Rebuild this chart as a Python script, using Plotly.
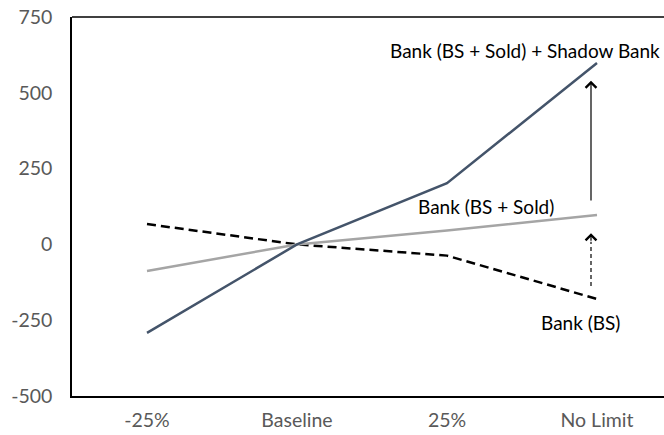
import plotly.graph_objects as go

categories = ["-25%", "Baseline", "25%", "No Limit"]
shadow_total = [-292, 0, 202, 598]       # Bank (BS + Sold) + Shadow Bank
bs_sold = [-88, 0, 46, 97]               # Bank (BS + Sold)
bs_only = [67, 0, -37, -180]             # Bank (BS)
y_ticks = [-500, -250, 0, 250, 500, 750]
y_tick_labels = ["-500", "-250", "0", "250", "500", "750"]

# arrows at No Limit (start value, end value)
solid_arrow = (140, 540)
dashed_arrow = (-137, 37)

x = list(range(len(categories)))
FONT = "Lato, 'Open Sans', sans-serif"
FS = 19.5
AFS = 19
AX = x[-1] - 0.04

fig = go.Figure()
fig.add_trace(go.Scatter(x=x, y=bs_only, mode="lines",
                         line=dict(color="black", width=2.5, dash="9px,5px")))
fig.add_trace(go.Scatter(x=x, y=bs_sold, mode="lines",
                         line=dict(color="#A5A5A5", width=2.5)))
fig.add_trace(go.Scatter(x=x, y=shadow_total, mode="lines",
                         line=dict(color="#44546A", width=2.5)))
# dashed arrow shaft
fig.add_trace(go.Scatter(x=[AX, AX], y=[dashed_arrow[0], dashed_arrow[1] - 28], mode="lines",
                         line=dict(color="black", width=1.2, dash="4px,3px")))

annotations = [
    dict(x=AX, y=solid_arrow[1], ax=AX, ay=solid_arrow[0], xref="x", yref="y",
         axref="x", ayref="y", showarrow=True, arrowhead=4, arrowsize=1.75,
         arrowwidth=1.2, arrowcolor="black", text=""),
    dict(x=AX, y=dashed_arrow[1], ax=AX, ay=dashed_arrow[1] - 30, xref="x", yref="y",
         axref="x", ayref="y", showarrow=True, arrowhead=4, arrowsize=1.75,
         arrowwidth=1.2, arrowcolor="black", text=""),
    dict(x=2.52, y=638, xref="x", yref="y", text="Bank (BS + Sold) + Shadow Bank",
         showarrow=False, xanchor="center", yanchor="middle",
         font=dict(family=FONT, size=AFS, color="black")),
    dict(x=2.26, y=124, xref="x", yref="y", text="Bank (BS + Sold)",
         showarrow=False, xanchor="center", yanchor="middle",
         font=dict(family=FONT, size=AFS, color="black")),
    dict(x=2.893, y=-259, xref="x", yref="y", text="Bank (BS)",
         showarrow=False, xanchor="center", yanchor="middle",
         font=dict(family=FONT, size=AFS, color="black")),
]

fig.update_layout(
    width=664, height=435,
    margin=dict(l=72, r=0, t=17, b=39, autoexpand=False),
    paper_bgcolor="white", plot_bgcolor="white",
    showlegend=False,
    hovermode=False,
    annotations=annotations,
    font=dict(family=FONT, size=FS, color="#595959"),
    shapes=[dict(type="line", xref="paper", yref="paper", x0=0, x1=1, y0=1, y1=1,
                 line=dict(color="black", width=1.5))],
)
fig.update_xaxes(range=[-0.5, -0.5 + 592 / 150], tickvals=x, ticktext=categories,
                 showgrid=False, zeroline=False, showline=True, linecolor="black",
                 linewidth=1.5, ticks="", ticklabelstandoff=6, ticklabeloverflow="allow")
fig.update_yaxes(range=[-500, 750], tickvals=y_ticks, ticktext=y_tick_labels,
                 showgrid=False, zeroline=False,
                 showline=True, linecolor="black", linewidth=1.5, ticks="",
                 ticklabelstandoff=14, ticklabeloverflow="allow")

fig.write_html("out.html", config={"displayModeBar": False},
               post_script="document.body.style.margin='0';document.body.style.overflow='hidden';")
